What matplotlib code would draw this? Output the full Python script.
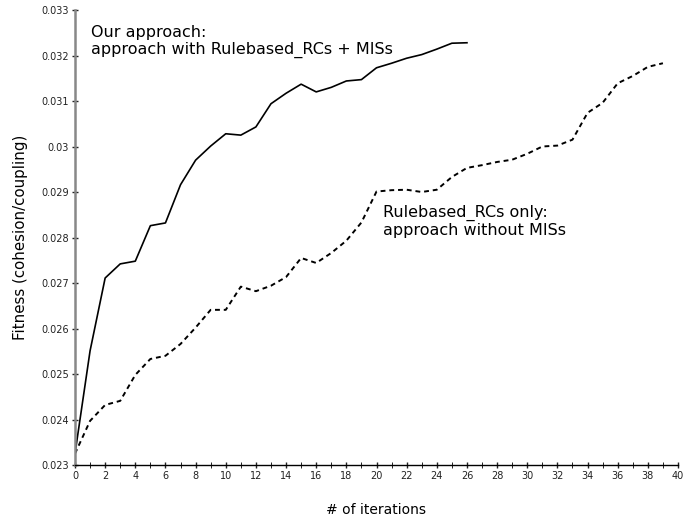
import numpy as np
import matplotlib
matplotlib.use('Agg')
import matplotlib.pyplot as plt

# fitness per iteration, with and without MISs
iters_mis = list(range(0, 27))
fitness_mis = [0.02325, 0.02551, 0.02711, 0.02742, 0.02748, 0.02826, 0.02832,
               0.02916, 0.02970, 0.03001, 0.03028, 0.03025, 0.03043, 0.03094,
               0.03117, 0.03137, 0.03120, 0.03130, 0.03144, 0.03147, 0.03173,
               0.03183, 0.03194, 0.03202, 0.03214, 0.03227, 0.03228]

iters_rc = list(range(0, 40))
fitness_rc = [0.02325, 0.02397, 0.02432, 0.02441, 0.02498, 0.02533, 0.02540,
              0.02566, 0.02602, 0.02641, 0.02641, 0.02692, 0.02682, 0.02694,
              0.02713, 0.02755, 0.02744, 0.02766, 0.02793, 0.02833, 0.02901,
              0.02904, 0.02905, 0.02900, 0.02905, 0.02933, 0.02953, 0.02959,
              0.02966, 0.02971, 0.02984, 0.03000, 0.03002, 0.03015, 0.03074,
              0.03096, 0.03139, 0.03155, 0.03175, 0.03183]

xticks = list(range(0, 41, 2))
yticks = [0.023, 0.024, 0.025, 0.026, 0.027, 0.028, 0.029, 0.03, 0.031, 0.032, 0.033]
ytick_labels = ['0.023', '0.024', '0.025', '0.026', '0.027', '0.028', '0.029',
                '0.03', '0.031', '0.032', '0.033']

fig = plt.figure(figsize=(6.87, 5.23), dpi=100)
ax = fig.add_axes([75/687, 1 - 465/523, 603/687, 455/523])

ax.plot(iters_mis, fitness_mis, color='black', lw=1.2)
ax.plot(iters_rc, fitness_rc, color='black', lw=1.4, linestyle=(0, (2.5, 2)))

ax.set_xlim(0, 40)
ax.set_ylim(0.023, 0.033)
ax.set_xticks(xticks)
ax.set_xticks(range(0, 41), minor=True)
ax.set_yticks(yticks)
ax.set_yticklabels(ytick_labels)

for s in ('top', 'right'):
    ax.spines[s].set_visible(False)
ax.spines['left'].set_color('#888888')
ax.spines['left'].set_linewidth(1.8)
ax.spines['bottom'].set_color('black')
ax.spines['bottom'].set_linewidth(1.0)

ax.tick_params(axis='both', labelsize=7, colors='#222222', width=1.0)
ax.tick_params(axis='x', which='both', direction='inout', length=5)
ax.tick_params(axis='y', direction='inout', length=5, pad=2)
ax.tick_params(axis='x', which='major', pad=2)

ax.set_xlabel('# of iterations', fontsize=10, labelpad=16)
ax.set_ylabel('Fitness (cohesion/coupling)', fontsize=10.8, labelpad=9)

ax.text(1.05, 0.03267, 'Our approach:\napproach with Rulebased_RCs + MISs',
        fontsize=11.5, va='top', ha='left', linespacing=1.15)
ax.text(20.4, 0.02872, 'Rulebased_RCs only:\napproach without MISs',
        fontsize=11.5, va='top', ha='left', linespacing=1.15)

fig.savefig('out.png', dpi=100)
